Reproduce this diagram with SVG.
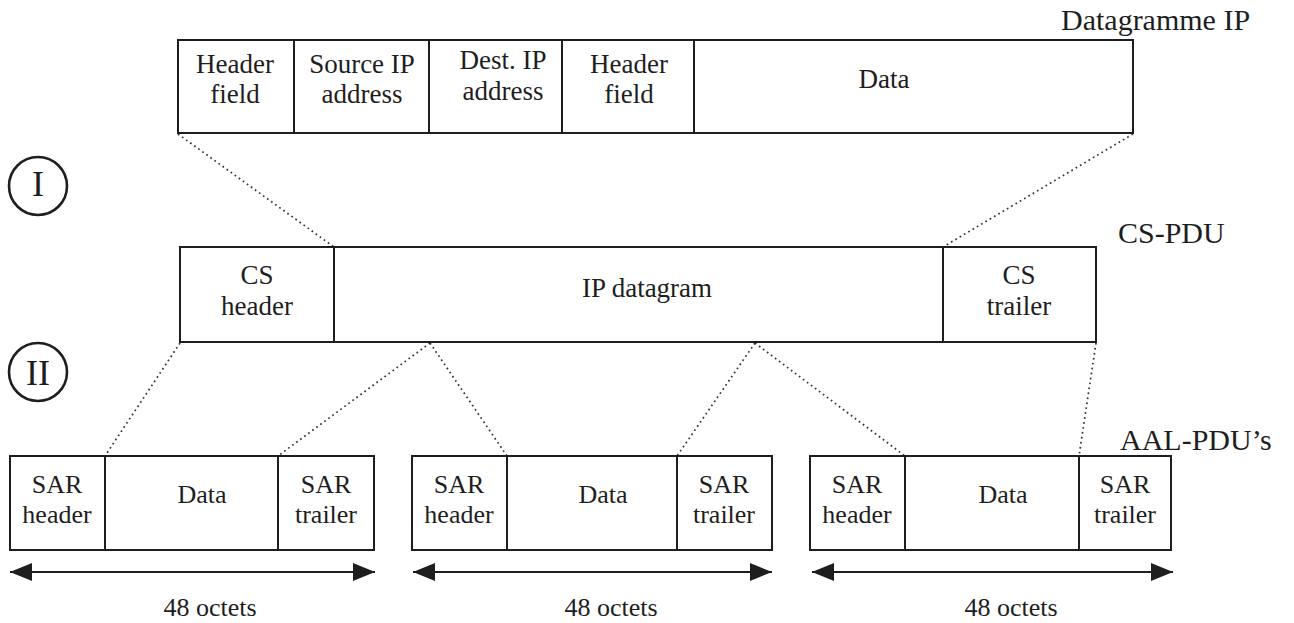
<svg xmlns="http://www.w3.org/2000/svg" width="1294" height="623" viewBox="0 0 1294 623">
<defs>
<marker id="ah" viewBox="0 0 22 18" markerWidth="22" markerHeight="18" refX="22" refY="9" markerUnits="userSpaceOnUse" orient="auto-start-reverse">
<path d="M0,0 L22,9 L0,18 z" fill="#1e1e1e"/>
</marker>
</defs>
<style>
.box{fill:#fff;stroke:#1e1e1e;stroke-width:2}
.div{stroke:#1e1e1e;stroke-width:2}
.t{font-family:"Liberation Serif","Times New Roman",serif;font-size:27px;fill:#1e1e1e;text-anchor:middle}
.s{font-family:"Liberation Serif","Times New Roman",serif;font-size:26px;fill:#1e1e1e;text-anchor:middle}
.title{font-family:"Liberation Serif","Times New Roman",serif;font-size:30px;fill:#1e1e1e}
.dot{stroke:#333;stroke-width:1.7;stroke-dasharray:1.7 3.3;fill:none}
.circ{fill:none;stroke:#1e1e1e;stroke-width:2.6}
.roman{font-family:"Liberation Serif","Times New Roman",serif;font-size:36px;fill:#1e1e1e;text-anchor:middle}
.arr{stroke:#1e1e1e;stroke-width:2;marker-start:url(#ah);marker-end:url(#ah)}
</style>
<rect width="1294" height="623" fill="#fff"/>

<g id="connectors">
<line class="dot" x1="178" y1="134" x2="334" y2="247"/>
<line class="dot" x1="1133" y1="134" x2="943" y2="247"/>
<line class="dot" x1="180" y1="343" x2="105" y2="456"/>
<line class="dot" x1="430" y1="343" x2="278" y2="456"/>
<line class="dot" x1="430" y1="343" x2="507" y2="456"/>
<line class="dot" x1="755" y1="343" x2="677" y2="456"/>
<line class="dot" x1="755" y1="343" x2="905" y2="456"/>
<line class="dot" x1="1096" y1="343" x2="1079" y2="456"/>
</g>

<g id="ip-datagram">
<rect class="box" x="178" y="40" width="955" height="93"/>
<line class="div" x1="294" y1="40" x2="294" y2="133"/>
<line class="div" x1="429" y1="40" x2="429" y2="133"/>
<line class="div" x1="562" y1="40" x2="562" y2="133"/>
<line class="div" x1="694" y1="40" x2="694" y2="133"/>
<text class="t" x="235" y="73">Header</text>
<text class="t" x="235" y="103">field</text>
<text class="t" x="362" y="73">Source IP</text>
<text class="t" x="362" y="103">address</text>
<text class="t" x="503" y="69">Dest. IP</text>
<text class="t" x="503" y="100">address</text>
<text class="t" x="629" y="73">Header</text>
<text class="t" x="629" y="103">field</text>
<text class="t" x="884" y="88">Data</text>
<text class="title" x="1061" y="30">Datagramme IP</text>
</g>

<g id="label-I">
<circle class="circ" cx="38" cy="186" r="29"/>
<text class="roman" x="38" y="196">I</text>
</g>

<g id="cs-pdu">
<rect class="box" x="180" y="247" width="916" height="95"/>
<line class="div" x1="334" y1="247" x2="334" y2="342"/>
<line class="div" x1="943" y1="247" x2="943" y2="342"/>
<text class="t" x="257" y="284">CS</text>
<text class="t" x="257" y="315">header</text>
<text class="t" x="647" y="297">IP datagram</text>
<text class="t" x="1019" y="284">CS</text>
<text class="t" x="1019" y="315">trailer</text>
<text class="title" x="1118" y="243">CS-PDU</text>
</g>

<g id="label-II">
<circle class="circ" cx="38" cy="372" r="29"/>
<text class="roman" x="38" y="385">II</text>
</g>

<g id="aal-pdu-1">
<rect class="box" x="10" y="456" width="364" height="94"/>
<line class="div" x1="105" y1="456" x2="105" y2="550"/>
<line class="div" x1="278" y1="456" x2="278" y2="550"/>
<text class="s" x="57" y="493">SAR</text>
<text class="s" x="57" y="523">header</text>
<text class="s" x="202" y="503">Data</text>
<text class="s" x="326" y="493">SAR</text>
<text class="s" x="326" y="523">trailer</text>
<line class="arr" x1="10" y1="572" x2="375" y2="572"/>
<text class="s" x="210" y="616">48 octets</text>
</g>

<g id="aal-pdu-2">
<rect class="box" x="412" y="456" width="360" height="94"/>
<line class="div" x1="507" y1="456" x2="507" y2="550"/>
<line class="div" x1="677" y1="456" x2="677" y2="550"/>
<text class="s" x="459" y="493">SAR</text>
<text class="s" x="459" y="523">header</text>
<text class="s" x="603" y="503">Data</text>
<text class="s" x="724" y="493">SAR</text>
<text class="s" x="724" y="523">trailer</text>
<line class="arr" x1="413" y1="572" x2="772" y2="572"/>
<text class="s" x="611" y="616">48 octets</text>
</g>

<g id="aal-pdu-3">
<rect class="box" x="810" y="456" width="361" height="94"/>
<line class="div" x1="905" y1="456" x2="905" y2="550"/>
<line class="div" x1="1079" y1="456" x2="1079" y2="550"/>
<text class="s" x="857" y="493">SAR</text>
<text class="s" x="857" y="523">header</text>
<text class="s" x="1003" y="503">Data</text>
<text class="s" x="1125" y="493">SAR</text>
<text class="s" x="1125" y="523">trailer</text>
<line class="arr" x1="812" y1="572" x2="1173" y2="572"/>
<text class="s" x="1011" y="616">48 octets</text>
<text class="title" x="1120" y="450">AAL-PDU’s</text>
</g>
</svg>
